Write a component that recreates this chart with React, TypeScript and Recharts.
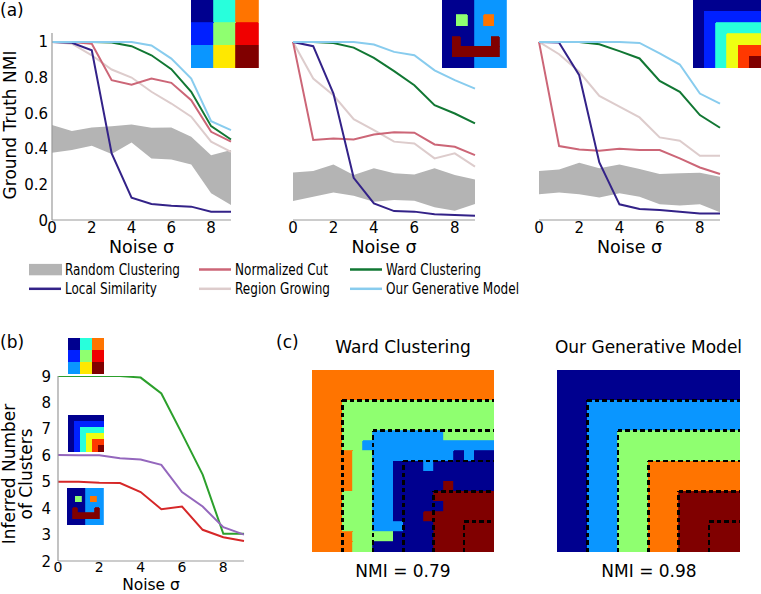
import React from 'react';
import { ComposedChart, Line, Area, XAxis, YAxis, ReferenceArea, ReferenceLine } from 'recharts';

// ---------- data ----------
const noise = [0, 1, 2, 3, 4, 5, 6, 7, 8, 9];
const xTicks = [0, 2, 4, 6, 8];
const nmiTicks = [0, 0.2, 0.4, 0.6, 0.8, 1];
const clusterTicks = [2, 3, 4, 5, 6, 7, 8, 9];

// (a) left: 3x3 grid
const gridBandLo = [0.378, 0.393, 0.417, 0.37, 0.435, 0.346, 0.34, 0.312, 0.15, 0.084];
const gridBandHi = [0.533, 0.5, 0.52, 0.527, 0.536, 0.518, 0.52, 0.467, 0.364, 0.393];
const gridLocal = [1, 0.995, 0.953, 0.374, 0.125, 0.09, 0.08, 0.075, 0.047, 0.047];
const gridNcut = [1, 1, 0.99, 0.785, 0.76, 0.794, 0.77, 0.673, 0.495, 0.44];
const gridRegion = [1, 0.99, 0.925, 0.845, 0.8, 0.72, 0.654, 0.58, 0.44, 0.383];
const gridWard = [1, 1, 1, 0.996, 0.976, 0.925, 0.847, 0.72, 0.527, 0.452];
const gridGen = [1, 1, 1, 1, 1, 0.98, 0.906, 0.794, 0.555, 0.505];

// (a) middle: face
const faceBandLo = [0.107, 0.131, 0.155, 0.136, 0.103, 0.112, 0.108, 0.071, 0.052, 0.09];
const faceBandHi = [0.267, 0.275, 0.312, 0.252, 0.29, 0.262, 0.256, 0.29, 0.252, 0.228];
const faceLocal = [1, 0.976, 0.71, 0.237, 0.093, 0.05, 0.047, 0.032, 0.028, 0.024];
const faceNcut = [1, 0.449, 0.458, 0.452, 0.48, 0.493, 0.49, 0.424, 0.411, 0.364];
const faceRegion = [1, 0.794, 0.7, 0.566, 0.505, 0.44, 0.43, 0.346, 0.374, 0.3];
const faceWard = [1, 1, 0.994, 0.968, 0.91, 0.836, 0.757, 0.645, 0.598, 0.542];
const faceGen = [1, 1, 1, 1, 0.985, 0.944, 0.925, 0.84, 0.785, 0.738];

// (a) right: nested squares
const nestBandLo = [0.144, 0.155, 0.144, 0.127, 0.15, 0.131, 0.088, 0.082, 0.088, 0.043];
const nestBandHi = [0.275, 0.284, 0.321, 0.29, 0.312, 0.286, 0.258, 0.262, 0.265, 0.243];
const nestLocal = [1, 0.996, 0.813, 0.323, 0.088, 0.062, 0.056, 0.047, 0.037, 0.037];
const nestNcut = [1, 0.415, 0.396, 0.389, 0.4, 0.393, 0.393, 0.346, 0.295, 0.258];
const nestRegion = [1, 0.931, 0.832, 0.697, 0.636, 0.576, 0.464, 0.445, 0.361, 0.361];
const nestWard = [1, 1, 1, 0.987, 0.948, 0.907, 0.781, 0.72, 0.589, 0.518];
const nestGen = [1, 1, 1, 1, 1, 0.994, 0.935, 0.873, 0.71, 0.654];

// (b) inferred number of clusters
const inferredGrid = [9, 9, 9, 9, 8.94, 8.34, 6.82, 5.27, 3.03, 3.03];
const inferredNested = [6.01, 6.0, 6.0, 5.89, 5.84, 5.64, 4.61, 4.06, 3.28, 3.0];
const inferredFace = [5.0, 5.0, 4.96, 4.95, 4.61, 3.96, 4.06, 3.18, 2.9, 2.76];

// legend
const legendLabels = ['Random Clustering', 'Local Similarity', 'Normalized Cut', 'Region Growing', 'Ward Clustering', 'Our Generative Model'];

// images (jet colours)
const JET: Record<string, string> = {
  N: '#00008F', U: '#0020FF', B: '#0A96FF', C: '#28FFDC', G: '#8FFF70',
  Y: '#FFE800', O: '#FF7400', R: '#F00000', D: '#800000', E: '#FF3800', L: '#EEFF12',
};
const thumbGrid = ['NCO', 'UGR', 'BYD'];
const thumbNestedColors = ['N', 'U', 'C', 'L', 'E', 'D'];
const smileyRects = [
  { x1: 0, x2: 0.51, y1: 0, y2: 1, c: 'N' },
  { x1: 0.51, x2: 1, y1: 0, y2: 1, c: 'B' },
  { x1: 0.225, x2: 0.395, y1: 0.22, y2: 0.38, c: 'G' },
  { x1: 0.645, x2: 0.805, y1: 0.22, y2: 0.38, c: 'O' },
  { x1: 0.16, x2: 0.89, y1: 0.68, y2: 0.835, c: 'D' },
  { x1: 0.16, x2: 0.285, y1: 0.54, y2: 0.69, c: 'D' },
  { x1: 0.765, x2: 0.89, y1: 0.54, y2: 0.69, c: 'D' },
];
const wardImage = [
  'OOOOOOOOOOOOOOOOOO',
  'OOOOOOOOOOOOOOOOOO',
  'OOOOOOOOOOOOOOOOOO',
  'OOOGGGGGGGGGGGGGGG',
  'OOOGGGGGGGGGGGGGGG',
  'OOOGGGGGGGGGGGGGGG',
  'OOOGGGBBBBBBBGGGGG',
  'OOOGGBBBBBBBBBBBBB',
  'OOOOGGBBBBBBBBNBNN',
  'OOOOGGBBNNNBNNNNNN',
  'OOOOGGBBNNNNNNNNNN',
  'OOOOGGBBNNNNNDNNNN',
  'OOOGGGBBNNNNDDDDDD',
  'OOOGGGBBNNNNNDDDDD',
  'OOOGGGBBNNNDDDDDDD',
  'OOOGGGBBBNNNDDDDDD',
  'OOOOGGGGNNNNDDDDDD',
  'OOOOGGNNNNNNDDDDDD',
];
const generativeRings = [
  { start: 0, c: 'N' },
  { start: 3, c: 'B' },
  { start: 6, c: 'G' },
  { start: 9, c: 'O' },
  { start: 12, c: 'D' },
];
const truthBoundaries = [3, 6, 9, 12, 15];

// ---------- helpers ----------
const FONT = 'DejaVu Sans';
const buildNmi = (lo: number[], hi: number[], lo2: number[], nc: number[], rg: number[], wd: number[], gn: number[]) =>
  noise.map((n, i) => ({ noise: n, band: [lo[i], hi[i]], local: lo2[i], ncut: nc[i], region: rg[i], ward: wd[i], gen: gn[i] }));

const gridData = buildNmi(gridBandLo, gridBandHi, gridLocal, gridNcut, gridRegion, gridWard, gridGen);
const faceData = buildNmi(faceBandLo, faceBandHi, faceLocal, faceNcut, faceRegion, faceWard, faceGen);
const nestData = buildNmi(nestBandLo, nestBandHi, nestLocal, nestNcut, nestRegion, nestWard, nestGen);
const inferredData = noise.map((n, i) => ({ noise: n, grid: inferredGrid[i], nested: inferredNested[i], face: inferredFace[i] }));

const AXIS = '#9a9a9a';
const XTickA = (props: any) => (
  <text x={props.x} y={props.y} dy={13} textAnchor="middle" fontFamily={FONT} fontSize={15} fill="#000">{props.payload.value}</text>
);
const XTickB = (props: any) => (
  <text x={props.x} y={props.y} dy={11} textAnchor="middle" fontFamily={FONT} fontSize={14} fill="#000">{props.payload.value}</text>
);
const YTickNmi = (props: any) => {
  const v = props.payload.value;
  return (
    <text x={props.x - 4} y={props.y} dy={5.5} textAnchor="end" fontFamily={FONT} fontSize={15} fill="#000">{v === 0 || v === 1 ? String(v) : v.toFixed(1)}</text>
  );
};
const YTickB = (props: any) => (
  <text x={props.x - 7} y={props.y} dy={5.5} textAnchor="end" fontFamily={FONT} fontSize={15} fill="#000">{props.payload.value}</text>
);

const COL = { band: '#b4b4b4', local: '#332288', ncut: '#CC6677', region: '#DDCCCC', ward: '#117733', gen: '#88CCEE' };

const YW = 30; // y axis width
const XH = 20; // x axis height

function NmiChart({ left, plotL, plotR, data, showY }: any) {
  const width = 250;
  return (
    <div style={{ position: 'absolute', left, top: 0 }}>
      <ComposedChart width={width} height={260} data={data} margin={{ top: 33, bottom: 40 - XH, left: showY ? plotL - YW : plotL, right: width - plotR }}>
        <XAxis type="number" dataKey="noise" domain={[0, 9]} ticks={xTicks} height={XH} tickSize={0} tickMargin={0}
          tickLine={false} axisLine={{ stroke: AXIS, strokeWidth: 1.2 }} tick={XTickA} interval={0} />
        <YAxis type="number" domain={[0, 1.05]} ticks={nmiTicks} width={YW} tickSize={0} tickMargin={0} hide={!showY}
          tickLine={false} axisLine={{ stroke: AXIS, strokeWidth: 1.2 }} tick={YTickNmi} interval={0} allowDataOverflow />
        <Area type="linear" dataKey="band" stroke="none" fill={COL.band} fillOpacity={1} isAnimationActive={false} />
        <Line type="linear" dataKey="region" stroke={COL.region} strokeWidth={2} dot={false} isAnimationActive={false} />
        <Line type="linear" dataKey="ncut" stroke={COL.ncut} strokeWidth={2} dot={false} isAnimationActive={false} />
        <Line type="linear" dataKey="local" stroke={COL.local} strokeWidth={2} dot={false} isAnimationActive={false} />
        <Line type="linear" dataKey="ward" stroke={COL.ward} strokeWidth={2} dot={false} isAnimationActive={false} />
        <Line type="linear" dataKey="gen" stroke={COL.gen} strokeWidth={2} dot={false} isAnimationActive={false} />
      </ComposedChart>
    </div>
  );
}

type R = { x1: number; x2: number; y1: number; y2: number; c: string };
function ImageChart({ left, top, width, height, cols, rows, rects, dashed }: { left: number; top: number; width: number; height: number; cols: number; rows: number; rects: R[]; dashed?: number[] }) {
  return (
    <div className="imgchart" style={{ position: 'absolute', left, top }}>
      <ComposedChart width={width} height={height} margin={{ top: 0, right: 0, bottom: 0, left: 0 }} data={[{ x: 0, y: 0 }, { x: cols, y: rows }]}>
        <XAxis type="number" dataKey="x" domain={[0, cols]} hide allowDataOverflow />
        <YAxis type="number" dataKey="y" domain={[0, rows]} reversed hide allowDataOverflow />
        {rects.map((r, i) => (
          <ReferenceArea key={i} x1={r.x1} x2={r.x2} y1={r.y1} y2={r.y2} fill={JET[r.c]} fillOpacity={1} stroke={JET[r.c]} strokeWidth={0.8} ifOverflow="visible" />
        ))}
        {(dashed || []).map((b) => (
          <ReferenceLine key={'v' + b} segment={[{ x: b, y: rows }, { x: b, y: b }]} stroke="#000" strokeWidth={2.6} strokeDasharray="4.5 3" ifOverflow="visible" />
        ))}
        {(dashed || []).map((b) => (
          <ReferenceLine key={'h' + b} segment={[{ x: b, y: b }, { x: cols, y: b }]} stroke="#000" strokeWidth={2.6} strokeDasharray="4.5 3" ifOverflow="visible" />
        ))}
      </ComposedChart>
    </div>
  );
}

const gridRects: R[] = thumbGrid.flatMap((row, r) => row.split('').map((c, k) => ({ x1: k, x2: k + 1, y1: r, y2: r + 1, c })));
const nestedRects: R[] = thumbNestedColors.map((c, k) => ({ x1: k, x2: 6, y1: k, y2: 6, c }));
const wardRects: R[] = wardImage.flatMap((row, r) => {
  const out: R[] = [];
  let s = 0;
  for (let k = 1; k <= row.length; k++) {
    if (k === row.length || row[k] !== row[s]) { out.push({ x1: s, x2: k, y1: r, y2: r + 1, c: row[s] }); s = k; }
  }
  return out;
});
const genRects: R[] = generativeRings.map((g) => ({ x1: g.start, x2: 18, y1: g.start, y2: 18, c: g.c }));

function Overlay() {
  const t = { fontFamily: FONT, fill: '#000' } as any;
  const legend = [
    { x: 29, y: 269.5, label: legendLabels[0], kind: 'patch', color: COL.band, len: 115 },
    { x: 29, y: 288.8, label: legendLabels[1], kind: 'line', color: COL.local, len: 92 },
    { x: 199, y: 269.5, label: legendLabels[2], kind: 'line', color: COL.ncut, len: 93 },
    { x: 199, y: 288.8, label: legendLabels[3], kind: 'line', color: COL.region, len: 95 },
    { x: 350, y: 269.5, label: legendLabels[4], kind: 'line', color: COL.ward, len: 95 },
    { x: 350, y: 288.8, label: legendLabels[5], kind: 'line', color: COL.gen, len: 133 },
  ];
  return (
    <svg width={761} height={594} style={{ position: 'absolute', left: 0, top: 0, pointerEvents: 'none' }}>
      <text x={0} y={16} fontSize={17} {...t}>(a)</text>
      <text x={0} y={347.5} fontSize={17} {...t}>(b)</text>
      <text x={276} y={347.5} fontSize={17} {...t}>(c)</text>
      <text transform="translate(15.5,125) rotate(-90)" textAnchor="middle" fontSize={17} {...t}>Ground Truth NMI</text>
      <text x={141.5} y={252.5} textAnchor="middle" fontSize={17.5} {...t}>Noise σ</text>
      <text x={384} y={252.5} textAnchor="middle" fontSize={17.5} {...t}>Noise σ</text>
      <text x={629.5} y={252.5} textAnchor="middle" fontSize={17.5} {...t}>Noise σ</text>
      {legend.map((l, i) => (
        <g key={i}>
          {l.kind === 'patch'
            ? <rect x={l.x} y={l.y - 5.6} width={33} height={11.4} fill={l.color} />
            : <line x1={l.x} x2={l.x + 32} y1={l.y} y2={l.y} stroke={l.color} strokeWidth={2.5} />}
          <text x={l.x + 36} y={l.y + 5.2} fontSize={15} textLength={l.len} lengthAdjust="spacingAndGlyphs" {...t}>{l.label}</text>
        </g>
      ))}
      <text transform="translate(15,474) rotate(-90)" textAnchor="middle" fontSize={17} {...t}>Inferred Number</text>
      <text transform="translate(31.5,474) rotate(-90)" textAnchor="middle" fontSize={17} {...t}>of Clusters</text>
      <text x={151} y={590} textAnchor="middle" fontSize={15.5} {...t}>Noise σ</text>
      <text x={403} y={353} textAnchor="middle" fontSize={17} {...t}>Ward Clustering</text>
      <text x={648.5} y={353} textAnchor="middle" fontSize={17} {...t}>Our Generative Model</text>
      <text x={403} y={577} textAnchor="middle" fontSize={17} {...t}>NMI = 0.79</text>
      <text x={649} y={577} textAnchor="middle" fontSize={17} {...t}>NMI = 0.98</text>
    </svg>
  );
}

export default function App() {
  return (
    <div style={{ position: 'absolute', left: 0, top: 0, width: 761, height: 594, background: '#fff', overflow: 'hidden' }}>
      <style>{'.imgchart svg { shape-rendering: crispEdges; }'}</style>
      <NmiChart left={0} plotL={52} plotR={231} data={gridData} showY />
      <NmiChart left={250} plotL={43} plotR={225} data={faceData} showY={false} />
      <NmiChart left={500} plotL={39} plotR={220} data={nestData} showY={false} />

      <ImageChart left={191} top={0} width={67.5} height={67.7} cols={3} rows={3} rects={gridRects} />
      <ImageChart left={442.3} top={0} width={64.4} height={67.7} cols={1} rows={1} rects={smileyRects} />
      <ImageChart left={693.3} top={0} width={67.7} height={67.7} cols={6} rows={6} rects={nestedRects} />

      <div style={{ position: 'absolute', left: 0, top: 325 }}>
        <ComposedChart width={260} height={269} data={inferredData} margin={{ top: 51, bottom: 33 - XH, left: 58 - YW, right: 16 }}>
          <XAxis type="number" dataKey="noise" domain={[0, 9]} ticks={xTicks} height={XH} tickSize={0} tickMargin={0}
            tickLine={false} axisLine={{ stroke: AXIS, strokeWidth: 1.2 }} tick={XTickB} interval={0} />
          <YAxis type="number" domain={[2, 9]} ticks={clusterTicks} width={YW} tickSize={0} tickMargin={0}
            tickLine={false} axisLine={{ stroke: AXIS, strokeWidth: 1.2 }} tick={YTickB} interval={0} allowDataOverflow />
          <Line type="linear" dataKey="grid" stroke="#2ca02c" strokeWidth={2} dot={false} isAnimationActive={false} />
          <Line type="linear" dataKey="nested" stroke="#9467bd" strokeWidth={2} dot={false} isAnimationActive={false} />
          <Line type="linear" dataKey="face" stroke="#d62728" strokeWidth={2} dot={false} isAnimationActive={false} />
        </ComposedChart>
      </div>
      <ImageChart left={67.5} top={337.7} width={36.5} height={36.5} cols={3} rows={3} rects={gridRects} />
      <ImageChart left={67.7} top={415} width={36.5} height={36.5} cols={6} rows={6} rects={nestedRects} />
      <ImageChart left={67.3} top={488.3} width={36.3} height={36.7} cols={1} rows={1} rects={smileyRects} />

      <ImageChart left={311.5} top={370} width={182.5} height={182} cols={18} rows={18} rects={wardRects} dashed={truthBoundaries} />
      <ImageChart left={557} top={370} width={182.5} height={182} cols={18} rows={18} rects={genRects} dashed={truthBoundaries} />

      <Overlay />
    </div>
  );
}
